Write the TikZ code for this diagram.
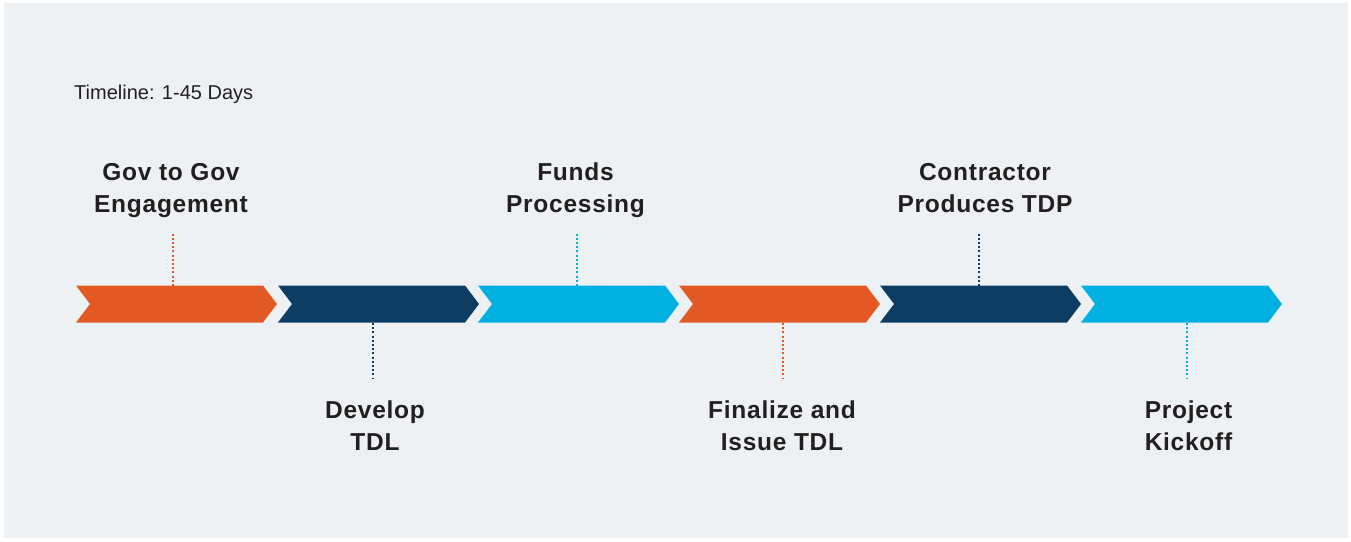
\documentclass[tikz,border=0pt]{standalone}
\usepackage{fontspec}
\setmainfont{Liberation Sans}
\newfontfamily\labfont{Liberation Sans}[LetterSpace=3]
\definecolor{bg}{HTML}{EEF1F4}
\definecolor{corange}{HTML}{E35925}
\definecolor{cnavy}{HTML}{0D3D62}
\definecolor{ccyan}{HTML}{00B0E0}
\definecolor{ctext}{HTML}{231F20}
\tikzset{
  chev/.style={fill=#1, draw=none},
  dotline/.style={draw=#1, line width=2pt, dash pattern=on 2pt off 2.2pt},
  lab/.style={align=center, font=\labfont\fontsize{24.5}{32}\selectfont\bfseries, text=ctext, inner sep=0pt},
}
\begin{document}
\begin{tikzpicture}[x=1pt, y=-1pt]
\useasboundingbox (0,0) rectangle (1351,541);
\fill[white] (0,0) rectangle (1351,541);
\fill[bg] (4,3) rectangle (1348,538);

\node[anchor=base west, inner sep=0pt, text=ctext, font=\fontsize{20}{24}\selectfont] (title) at (74,99) {Timeline: 1-45 Days};

% chevrons
\fill[chev=corange] (76,285.5) -- ++(187,0) -- ++(14,18.5) -- ++(-14,18.5) -- ++(-187,0) -- ++(14,-18.5) -- cycle;
\fill[chev=cnavy] (278,285.5) -- ++(187,0) -- ++(14,18.5) -- ++(-14,18.5) -- ++(-187,0) -- ++(14,-18.5) -- cycle;
\fill[chev=ccyan] (478,285.5) -- ++(187,0) -- ++(14,18.5) -- ++(-14,18.5) -- ++(-187,0) -- ++(14,-18.5) -- cycle;
\fill[chev=corange] (679,285.5) -- ++(187,0) -- ++(14,18.5) -- ++(-14,18.5) -- ++(-187,0) -- ++(14,-18.5) -- cycle;
\fill[chev=cnavy] (880,285.5) -- ++(187,0) -- ++(14,18.5) -- ++(-14,18.5) -- ++(-187,0) -- ++(14,-18.5) -- cycle;
\fill[chev=ccyan] (1081,285.5) -- ++(187,0) -- ++(14,18.5) -- ++(-14,18.5) -- ++(-187,0) -- ++(14,-18.5) -- cycle;

% labels (base anchor = baseline of last line)
\node[lab, anchor=base] (l1) at (171,212) {Gov to Gov\\Engagement};
\node[lab, anchor=base] (l2) at (375,450) {Develop\\TDL};
\node[lab, anchor=base] (l3) at (575.5,212) {Funds\\Processing};
\node[lab, anchor=base] (l4) at (782,450) {Finalize and\\Issue TDL};
\node[lab, anchor=base] (l5) at (985,212) {Contractor\\Produces TDP};
\node[lab, anchor=base] (l6) at (1188.5,450) {Project\\Kickoff};

% connector end points
\coordinate (a1) at (173,233.5); \coordinate (b1) at (173,285.5);
\coordinate (a2) at (373,323);   \coordinate (b2) at (373,378);
\coordinate (a3) at (577,233.5); \coordinate (b3) at (577,285.5);
\coordinate (a4) at (783,323);   \coordinate (b4) at (783,379);
\coordinate (a5) at (979,233.5); \coordinate (b5) at (979,285.5);
\coordinate (a6) at (1187,323);  \coordinate (b6) at (1187,379);

\draw[dotline=corange] (a1) -- (b1);
\draw[dotline=cnavy] (a2) -- (b2);
\draw[dotline=ccyan] (a3) -- (b3);
\draw[dotline=corange] (a4) -- (b4);
\draw[dotline=cnavy] (a5) -- (b5);
\draw[dotline=ccyan] (a6) -- (b6);
\end{tikzpicture}
\end{document}
